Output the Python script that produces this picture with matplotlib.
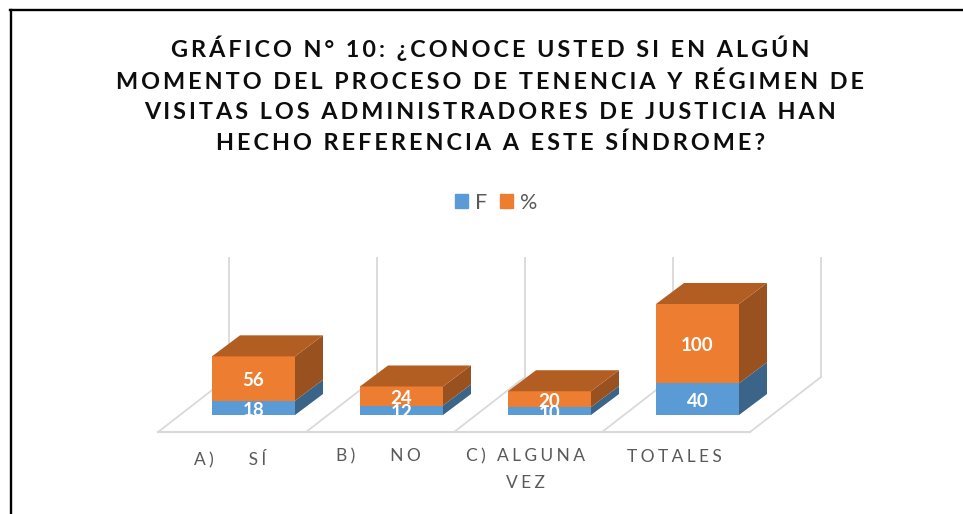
import matplotlib
matplotlib.use("Agg")
import matplotlib.pyplot as plt
from matplotlib.lines import Line2D
from matplotlib.patches import Patch

FONT = ["Lato", "DejaVu Sans"]
plt.rcParams["font.family"] = FONT

title = ("GRÁFICO N° 10: ¿CONOCE USTED SI EN ALGÚN\n"
         "MOMENTO DEL PROCESO DE TENENCIA Y RÉGIMEN DE\n"
         "VISITAS LOS ADMINISTRADORES DE JUSTICIA HAN\n"
         "HECHO REFERENCIA A ESTE SÍNDROME?")
categories = ["A)    SÍ", "B)    NO", "C) ALGUNA\nVEZ", "TOTALES"]
series_f = [18, 12, 10, 40]
series_pct = [56, 24, 20, 100]

W, H = 963, 514
BLUE, ORANGE = "#5B9BD5", "#ED7D31"
BLUE_SIDE, ORANGE_SIDE, ORANGE_TOP = "#3A6488", "#99521F", "#B25E22"
GRID = "#D9D9D9"
TXT = "#595959"

def spaced(s, n=1):
    return "\n".join(("\u200a" * n).join(line) for line in s.split("\n"))

fig = plt.figure(figsize=(W / 100, H / 100), dpi=100, facecolor="white")
ax = fig.add_axes([158 / W, 1 - 432 / H, (822 - 158) / W, (432 - 258) / H])
ax.set_xlim((158 - 253.5) / 148, (822 - 253.5) / 148)
ax.set_ylim(-21.4, 198)
for s in ax.spines.values():
    s.set_visible(False)
ax.set_yticks([])

n = len(categories)
bar_w = 83 / 148
dx, dy = 28 / 148, 21 / 0.793
fx, bx, fy, by, top = -0.645, -0.166, -21.4, 47.9, 198

# floor and back wall
for i in range(n + 1):
    ax.plot([i + fx, i + bx], [fy, by], color=GRID, lw=1.3, clip_on=False)
    ax.plot([i + bx, i + bx], [by, top], color=GRID, lw=1.3, clip_on=False)
ax.plot([fx, n + fx], [fy, fy], color=GRID, lw=1.5, clip_on=False)

xs = list(range(n))
ax.bar(xs, series_f, width=bar_w, color=BLUE, zorder=3)
ax.bar(xs, series_pct, width=bar_w, bottom=series_f, color=ORANGE, zorder=3)

for i, (f, p) in enumerate(zip(series_f, series_pct)):
    r = i + bar_w / 2
    l = i - bar_w / 2
    t = f + p
    ax.fill([r, r + dx, r + dx, r], [0, dy, f + dy, f], color=BLUE_SIDE, lw=0, zorder=3)
    ax.fill([r, r + dx, r + dx, r], [f, f + dy, t + dy, t], color=ORANGE_SIDE, lw=0, zorder=3)
    ax.fill([l, l + dx, r + dx, r], [t, t + dy, t + dy, t], color=ORANGE_TOP, lw=0, zorder=3)
    ax.text(i, f / 2 - 1, str(f), color="white", fontweight="bold", fontsize=13.5,
            ha="center", va="center_baseline", zorder=5)
    ax.text(i, f + p / 2 - 1, str(p), color="white", fontweight="bold", fontsize=13.5,
            ha="center", va="center_baseline", zorder=5)

ax.set_xticks([i + (fx + 0.5) - 0.014 for i in xs])
ax.set_xticklabels([spaced(c, 3) for c in categories], color=TXT, fontsize=12.5, linespacing=1.75)
ax.tick_params(axis="x", length=0, pad=12)

fig.text(490 / W, 1 - 95 / H, spaced(title, 2), ha="center", va="center", fontsize=16.8,
         fontweight="bold", color="#0D0D0D", linespacing=1.55)

fig.legend(handles=[Patch(color=BLUE, label="F"), Patch(color=ORANGE, label="%")],
           loc="center", bbox_to_anchor=(496 / W, 1 - 203 / H), ncol=2, frameon=False,
           fontsize=15.5, labelcolor=TXT, handlelength=0.63, handleheight=0.63,
           handletextpad=0.3, columnspacing=0.6)

# outer frame
fig.add_artist(Line2D([11 / W, 11 / W], [0, 1 - 10 / H], color="black", lw=1.7))
fig.add_artist(Line2D([10 / W, 1], [1 - 10 / H, 1 - 10 / H], color="black", lw=1.7))

fig.savefig("out.png", dpi=100)
